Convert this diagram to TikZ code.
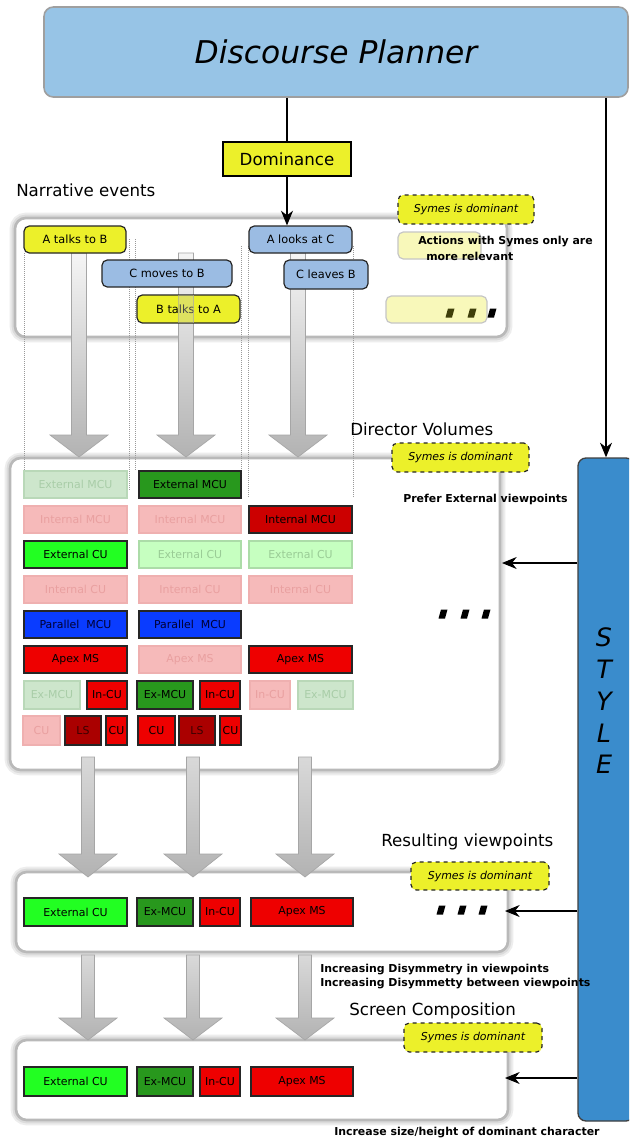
\documentclass[tikz,border=0pt]{standalone}
\usepackage{fontspec}
\setmainfont{DejaVu Sans}
\usetikzlibrary{arrows.meta}
\definecolor{dpblue}{HTML}{97C4E6}
\definecolor{styleblue}{HTML}{3A8CCC}
\definecolor{ylw}{HTML}{ECF02A}
\definecolor{evblue}{HTML}{9BBCE3}
\definecolor{paleylw}{HTML}{F8F8BA}
\definecolor{fgF}{HTML}{CDE6CC}
\definecolor{fgD}{HTML}{B9D8B8}
\definecolor{fgT}{HTML}{A9CDA8}
\definecolor{fpF}{HTML}{F6BABA}
\definecolor{fpD}{HTML}{EFB0B0}
\definecolor{fpT}{HTML}{E9A0A0}
\definecolor{lgF}{HTML}{C6FFC0}
\definecolor{lgD}{HTML}{ACDCA8}
\definecolor{lgT}{HTML}{9ACC96}
\definecolor{dgreen}{HTML}{28981D}
\definecolor{bgreen}{HTML}{22FF22}
\definecolor{dred}{HTML}{CC0000}
\definecolor{rred}{HTML}{EE0000}
\definecolor{lsred}{HTML}{AA0000}
\definecolor{pblue}{HTML}{0A3CFF}
\definecolor{olive}{HTML}{3F3F0A}
\newcommand\fsS{\fontsize{8.2}{10}\selectfont}
\newcommand\fsE{\fontsize{8.5}{10}\selectfont}
\newcommand\fsB{\fontsize{8.2}{10}\selectfont\bfseries}
\newcommand\fsM{\fontsize{12.5}{15}\selectfont}
\newcommand\fsL{\fontsize{23.5}{28}\selectfont\itshape}
\newcommand\fsT{\fontsize{19}{23.8}\selectfont\itshape}
\newcommand\bx[7]{\node[#2, minimum width={(#5-#3)*0.75pt}, minimum height={(#6-#4)*0.75pt}] (#1) at ({(#3+#5)/2},{(#4+#6)/2}) {#7};}
\newcommand\fatarrow[7]{\path[#7] ({#1-#5},#2) -- ({#1+#5},#2) -- ({#1+#5},#3) -- ({#1+#6},#3) -- (#1,#4) -- ({#1-#6},#3) -- ({#1-#5},#3) -- cycle;}
\newcommand\dotmark[3]{\fill[#3] ({#1-4.5},{#2+4.5}) -- ({#1+2},{#2+4.5}) -- ({#1+4.5},{#2-4.5}) -- ({#1-2},{#2-4.5}) -- cycle;}
\tikzset{
 bbase/.style={inner sep=0pt, font=\fsS, line width=0.9pt},
 sFG/.style={bbase, fill=fgF, draw=fgD, text=fgT},
 sFP/.style={bbase, fill=fpF, draw=fpD, text=fpT},
 sLG/.style={bbase, fill=lgF, draw=lgD, text=lgT},
 sDG/.style={bbase, fill=dgreen, draw=black!85},
 sBG/.style={bbase, fill=bgreen, draw=black!85},
 sDR/.style={bbase, fill=dred, draw=black!85},
 sRR/.style={bbase, fill=rred, draw=black!85},
 sLS/.style={bbase, fill=lsred, draw=black!85, text=black!65!lsred},
 sPB/.style={bbase, fill=pblue, draw=black!85, text=black!80!blue},
 evY/.style={fill=ylw, draw=black!85, line width=0.9pt, rounded corners=4pt, inner sep=0pt, font=\fsE},
 evB/.style={fill=evblue, draw=black!85, line width=0.9pt, rounded corners=4pt, inner sep=0pt, font=\fsE},
 symes/.style={fill=ylw, draw=black!85, dashed, line width=0.9pt, rounded corners=4pt, inner sep=0pt, font=\fsS\itshape},
 paleY/.style={fill=paleylw, draw=gray!45, line width=0.9pt, rounded corners=4pt, inner sep=0pt},
 grp/.style={fill=white, draw=gray!55, line width=2pt, rounded corners=8pt, inner sep=0pt, preaction={draw=gray!14, line width=8pt}, preaction={draw=gray!28, line width=5pt}},
 arr/.style={-{Stealth[length=11pt,width=9pt,inset=3.5pt]}, line width=0.8pt},
 fatN/.style={draw=gray!70, line width=0.5pt, top color=gray!8, bottom color=gray!60},
 fatL/.style={draw=gray!70, line width=0.5pt, top color=gray!30, bottom color=gray!60},
 guide/.style={densely dotted, gray!80, line width=0.5pt},
 lbl/.style={font=\fsM, anchor=west, inner sep=0pt},
 note/.style={font=\fsB, anchor=west, inner sep=0pt}
}
\begin{document}
\begin{tikzpicture}[x=0.75pt, y=-0.75pt]
\clip (0,0) rectangle (629,1143);
\fill[white] (0,0) rectangle (629,1143);
% group boxes
\bx{ne}{grp}{15}{218}{507}{337}{}
\bx{dv}{grp}{10}{458}{500}{770}{}
\bx{rv}{grp}{16}{872}{508}{952}{}
\bx{sc}{grp}{16}{1040}{508}{1120}{}
% dotted guides
\draw[guide] (24,253) -- (24,470);
\draw[guide] (129,239) -- (129,490);
\draw[guide] (135,239) -- (135,471);
\draw[guide] (241,246) -- (241,470);
\draw[guide] (248,246) -- (248,497);
\draw[guide] (353,246) -- (353,497);
% narrative fat arrows
\fatarrow{79}{253}{435}{457}{7.5}{29}{fatN}
\fatarrow{186}{253}{435}{457}{7.5}{29}{fatN}
\fatarrow{298}{253}{435}{457}{7.5}{29}{fatN}
% top
\bx{dp}{fill=dpblue, draw=gray!75, line width=1.2pt, rounded corners=7pt, inner sep=0pt, font=\fsL}{44}{7}{628}{97}{Discourse Planner}
\bx{dom}{fill=ylw, draw=black, line width=1.3pt, inner sep=0pt, font=\fsM}{223}{142}{351}{176}{Dominance}
\bx{style}{fill=styleblue, draw=black!75, line width=1pt, rounded corners=6pt, inner sep=0pt}{578}{458}{634}{1121}{}
\node[font=\fsT, align=center, inner sep=0pt] (styletxt) at (604,701) {S\\T\\Y\\L\\E};
% narrative events
\bx{atalk}{evY}{24}{226}{126}{253}{A talks to B}
\bx{alook}{evB}{249}{226}{352}{253}{A looks at C}
\bx{cmove}{evB}{102}{260}{232}{287}{C moves to B}
\bx{cleave}{evB}{284}{260}{368}{289}{C leaves B}
\bx{btalk}{evY}{137}{295}{240}{323}{B talks to A}
\fill[gray!45, fill opacity=0.35] (178.5,295) rectangle (193.5,323);
\draw[gray!70, draw opacity=0.6, line width=0.5pt] (178.5,295) -- (178.5,323) (193.5,295) -- (193.5,323);
% connectors
\draw[line width=0.8pt] (dom.north |- dp.south) -- (dom.north);
\draw[arr] (dom.south) -- (dom.south |- alook.north);
\draw[arr] (style.north |- dp.south) -- (style.north);
\coordinate (dvin) at (502,563);
\coordinate (rvin) at (505,911);
\coordinate (scin) at (505,1078);
\draw[arr] (style.west |- dvin) -- (dvin);
\draw[arr] (style.west |- rvin) -- (rvin);
\draw[arr] (style.west |- scin) -- (scin);
% narrative side notes
\bx{sy1}{symes}{398}{195}{534}{224}{Symes is dominant}
\bx{pale1}{paleY}{398}{232}{481}{259}{}
\node[note] (act1) at (418,242) {Actions with Symes only are};
\node[note] (act2) at (426,256) {more relevant};
\bx{pale2}{paleY}{386}{296}{487}{323}{}
\dotmark{450}{313}{olive}
\dotmark{472}{313}{olive}
\dotmark{492}{313}{black}
\node[lbl] (lne) at (16,190) {Narrative events};
% director volumes
\node[lbl] (ldv) at (350,429) {Director Volumes};
\bx{sy2}{symes}{392}{443}{529}{472}{Symes is dominant}
\node[note] (pref) at (403,499) {Prefer External viewpoints};
\bx{d11}{sFG}{24}{471}{127}{498}{External MCU}
\bx{d12}{sDG}{139}{471}{241}{498}{External MCU}
\bx{d21}{sFP}{24}{506}{127}{533}{Internal MCU}
\bx{d22}{sFP}{139}{506}{241}{533}{Internal MCU}
\bx{d23}{sDR}{249}{506}{352}{533}{Internal MCU}
\bx{d31}{sBG}{24}{541}{127}{568}{External CU}
\bx{d32}{sLG}{139}{541}{241}{568}{External CU}
\bx{d33}{sLG}{249}{541}{352}{568}{External CU}
\bx{d41}{sFP}{24}{576}{127}{603}{Internal CU}
\bx{d42}{sFP}{139}{576}{241}{603}{Internal CU}
\bx{d43}{sFP}{249}{576}{352}{603}{Internal CU}
\bx{d51}{sPB}{24}{611}{127}{638}{Parallel\ \ MCU}
\bx{d52}{sPB}{139}{611}{241}{638}{Parallel\ \ MCU}
\bx{d61}{sRR}{24}{646}{127}{673}{Apex MS}
\bx{d62}{sFP}{139}{646}{241}{673}{Apex MS}
\bx{d63}{sRR}{249}{646}{352}{673}{Apex MS}
\bx{d71}{sFG}{24}{681}{80}{709}{Ex-MCU}
\bx{d72}{sRR}{87}{681}{127}{709}{In-CU}
\bx{d73}{sDG}{137}{681}{193}{709}{Ex-MCU}
\bx{d74}{sRR}{200}{681}{240}{709}{In-CU}
\bx{d75}{sFP}{250}{681}{290}{709}{In-CU}
\bx{d76}{sFG}{298}{681}{353}{709}{Ex-MCU}
\bx{d81}{sFP}{23}{716}{60}{745}{CU}
\bx{d82}{sLS}{65}{716}{101}{745}{LS}
\bx{d83}{sRR}{106}{716}{127}{745}{CU}
\bx{d84}{sRR}{138}{716}{175}{745}{CU}
\bx{d85}{sLS}{179}{716}{215}{745}{LS}
\bx{d86}{sRR}{220}{716}{241}{745}{CU}
\dotmark{443}{614}{black}
\dotmark{465}{614}{black}
\dotmark{486}{614}{black}
% level 2 arrows
\fatarrow{88}{757}{854}{877}{6.5}{29}{fatL}
\fatarrow{193}{757}{854}{877}{6.5}{29}{fatL}
\fatarrow{305}{757}{854}{877}{6.5}{29}{fatL}
% resulting viewpoints
\node[lbl] (lrv) at (381,842) {Resulting viewpoints};
\bx{sy3}{symes}{411}{862}{549}{890}{Symes is dominant}
\bx{r1}{sBG}{24}{898}{127}{926}{External CU}
\bx{r2}{sDG}{137}{898}{193}{926}{Ex-MCU}
\bx{r3}{sRR}{200}{898}{240}{926}{In-CU}
\bx{r4}{sRR}{251}{898}{353}{926}{Apex MS}
\dotmark{441}{910}{black}
\dotmark{462}{910}{black}
\dotmark{483}{910}{black}
% level 3 arrows
\fatarrow{88}{955}{1018}{1040}{6.5}{29}{fatL}
\fatarrow{193}{955}{1018}{1040}{6.5}{29}{fatL}
\fatarrow{305}{955}{1018}{1040}{6.5}{29}{fatL}
\node[note] (inc1) at (320,970) {Increasing Disymmetry in viewpoints};
\node[note] (inc2) at (320,984) {Increasing Disymmetty between viewpoints};
% screen composition
\node[lbl] (lsc) at (349,1011) {Screen Composition};
\bx{sy4}{symes}{404}{1023}{542}{1052}{Symes is dominant}
\bx{s1}{sBG}{24}{1067}{127}{1096}{External CU}
\bx{s2}{sDG}{137}{1067}{193}{1096}{Ex-MCU}
\bx{s3}{sRR}{200}{1067}{240}{1096}{In-CU}
\bx{s4}{sRR}{251}{1067}{353}{1096}{Apex MS}
\node[note] (incsize) at (334,1133) {Increase size/height of dominant character};
\end{tikzpicture}
\end{document}
